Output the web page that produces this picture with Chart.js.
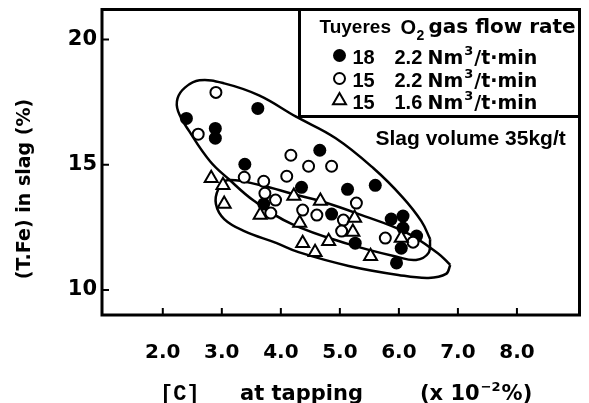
<!DOCTYPE html>
<html>
<head>
<meta charset="utf-8">
<script src="https://cdn.jsdelivr.net/npm/chart.js@4.4.1/dist/chart.umd.min.js"></script>
<style>
  body { margin: 0; background: #fff; }
  #wrap { width: 589px; height: 403px; }
</style>
</head>
<body>
<div id="wrap"><canvas id="tfeChart" width="589" height="403"></canvas></div>
<script>
// ejes
const xTicks = [2, 3, 4, 5, 6, 7, 8];
const yTicks = [10, 15, 20];

// 18 toberas, 2.2 Nm3/t.min
const filledX = [2.40, 2.89, 2.89, 3.61, 3.39, 3.71, 4.35, 4.66, 5.13, 5.60, 4.86, 5.87, 6.07, 6.07, 6.30, 5.26, 6.04, 5.96];
const filledY = [16.85, 16.45, 16.06, 17.25, 15.02, 13.43, 14.10, 15.58, 14.02, 14.18, 13.03, 12.83, 12.95, 12.47, 12.15, 11.87, 11.67, 11.08];

// 15 toberas, 2.2 Nm3/t.min
const openX = [2.90, 2.60, 4.17, 4.47, 4.86, 4.10, 3.38, 3.71, 3.73, 3.91, 3.83, 5.28, 4.37, 4.61, 5.06, 5.03, 5.77, 6.24];
const openY = [17.89, 16.22, 15.38, 14.94, 14.94, 14.54, 14.50, 14.34, 13.86, 13.59, 13.07, 13.47, 13.19, 12.99, 12.79, 12.35, 12.07, 11.91];

// 15 toberas, 1.6 Nm3/t.min
const triX = [2.82, 3.02, 3.04, 3.65, 4.22, 4.67, 4.32, 5.25, 5.22, 4.37, 4.58, 4.81, 5.52, 6.04];
const triY = [14.46, 14.18, 13.43, 12.99, 13.75, 13.55, 12.67, 12.87, 12.31, 11.87, 11.51, 11.95, 11.35, 12.07];

// contornos (zona 2.2 y zona 1.6)
const outerX = [6.53, 6.50, 6.29, 5.99, 5.15, 4.19, 3.55, 3.12, 2.80, 2.45, 2.26, 2.25, 2.38, 2.62, 3.04, 3.63, 4.25, 4.93, 5.57, 6.06, 6.38, 6.53];
const outerY = [12.03, 11.47, 11.20, 11.31, 11.83, 12.63, 13.55, 14.42, 15.14, 16.33, 17.13, 17.65, 18.09, 18.37, 18.25, 17.77, 16.93, 16.06, 14.86, 13.71, 12.75, 12.03];
const innerX = [6.87, 6.80, 6.50, 5.99, 5.15, 4.30, 3.93, 3.38, 3.04, 2.90, 2.94, 3.09, 3.66, 4.22, 4.67, 5.32, 6.11, 6.66, 6.87];
const innerY = [11.00, 10.64, 10.48, 10.60, 10.96, 11.51, 11.87, 12.35, 12.83, 13.43, 14.02, 14.38, 14.18, 13.82, 13.55, 13.03, 12.31, 11.47, 11.00];

const zip = (xs, ys) => xs.map((x, i) => ({ x: x, y: ys[i] }));

const BOLD = "'DejaVu Sans', sans-serif";
const ARIAL = "'Liberation Sans', Arial, sans-serif";

function marker(ctx, kind, x, y) {
  ctx.beginPath();
  if (kind === "tri") {
    const r = 7.5;
    ctx.moveTo(x, y - r);
    ctx.lineTo(x + r * 0.866, y + r * 0.5);
    ctx.lineTo(x - r * 0.866, y + r * 0.5);
    ctx.closePath();
    ctx.fillStyle = "#fff";
    ctx.fill();
    ctx.stroke();
  } else if (kind === "open") {
    ctx.arc(x, y, 5.5, 0, Math.PI * 2);
    ctx.fillStyle = "#fff";
    ctx.fill();
    ctx.stroke();
  } else {
    ctx.arc(x, y, 6.5, 0, Math.PI * 2);
    ctx.fillStyle = "#000";
    ctx.fill();
  }
}

// sin relleno extra de etiquetas en los bordes
function noPad(s) {
  s.paddingTop = 0;
  s.paddingBottom = 0;
  s.paddingLeft = 0;
  s.paddingRight = 0;
}

const decor = {
  id: "decor",
  afterDraw(chart) {
    const ctx = chart.ctx;
    const a = chart.chartArea;
    const xs = chart.scales.x, ys = chart.scales.y;
    ctx.save();
    ctx.strokeStyle = "#000";
    ctx.fillStyle = "#000";

    // marco
    ctx.lineWidth = 3;
    ctx.strokeRect(a.left, a.top, a.right - a.left, a.bottom - a.top);

    // marcas hacia dentro
    ctx.lineWidth = 2;
    ctx.beginPath();
    xTicks.forEach(v => {
      const px = xs.getPixelForValue(v);
      ctx.moveTo(px, a.bottom);
      ctx.lineTo(px, a.bottom - 7);
    });
    yTicks.forEach(v => {
      const py = ys.getPixelForValue(v);
      ctx.moveTo(a.left, py);
      ctx.lineTo(a.left + 7, py);
    });
    ctx.stroke();

    // caja de leyenda
    const bx = a.right - 280, by = a.top, bh = 107;
    ctx.fillStyle = "#fff";
    ctx.fillRect(bx, by, a.right - bx, bh);
    ctx.lineWidth = 3;
    ctx.strokeRect(bx, by, a.right - bx, bh);

    ctx.fillStyle = "#000";
    ctx.textBaseline = "alphabetic";
    ctx.textAlign = "left";
    ctx.font = "bold 19px " + ARIAL;
    ctx.fillText("Tuyeres", bx + 20, by + 23);
    ctx.font = "bold 20px " + ARIAL;
    ctx.fillText("O", bx + 101, by + 24);
    ctx.font = "bold 14px " + ARIAL;
    ctx.fillText("2", bx + 117, by + 30);
    ctx.font = "bold 20px " + BOLD;
    ctx.fillText("gas flow rate", bx + 129, by + 23);

    const rows = [
      { kind: "filled", n: "18", q: "2.2", y: by + 54 },
      { kind: "open", n: "15", q: "2.2", y: by + 77 },
      { kind: "tri", n: "15", q: "1.6", y: by + 99 }
    ];
    rows.forEach(r => {
      ctx.lineWidth = 2;
      marker(ctx, r.kind, bx + 40, r.y - 8);
      ctx.fillStyle = "#000";
      ctx.font = "bold 20px " + ARIAL;
      ctx.fillText(r.n, bx + 53, r.y);
      ctx.fillText(r.q, bx + 95, r.y);
      ctx.font = "bold 19px " + BOLD;
      ctx.fillText("Nm", bx + 128, r.y);
      let nx = bx + 128 + ctx.measureText("Nm").width + 1;
      ctx.font = "bold 13px " + BOLD;
      ctx.fillText("3", nx, r.y - 9);
      nx += ctx.measureText("3").width + 1;
      ctx.font = "bold 19px " + BOLD;
      ctx.fillText("/t\u00b7min", nx, r.y);
    });

    ctx.font = "bold 21px " + ARIAL;
    ctx.fillText("Slag volume 35kg/t", bx + 76, by + 135);

    // titulo eje y
    ctx.save();
    ctx.translate(25, 189);
    ctx.rotate(-Math.PI / 2);
    ctx.textAlign = "center";
    ctx.textBaseline = "middle";
    ctx.font = "bold 19px " + BOLD;
    ctx.fillText("(T.Fe) in slag (%)", 0, 0);
    ctx.restore();

    // titulo eje x
    const ty = 400;
    ctx.font = "bold 22px 'Liberation Mono', monospace";
    ctx.fillText("[C]", 160, ty);
    ctx.font = "bold 21px " + BOLD;
    ctx.fillText("at tapping", 240, ty);
    let tx = 420;
    ctx.fillText("(x 10", tx, ty);
    tx += ctx.measureText("(x 10").width + 1;
    ctx.font = "bold 13px " + BOLD;
    ctx.fillText("\u22122", tx, ty - 9);
    tx += ctx.measureText("\u22122").width + 1;
    ctx.font = "bold 21px " + BOLD;
    ctx.fillText("%)", tx, ty);

    ctx.restore();
  }
};

const ctx = document.getElementById("tfeChart").getContext("2d");
new Chart(ctx, {
  type: "scatter",
  data: {
    datasets: [
      {
        label: "18 / 2.2",
        data: zip(filledX, filledY),
        pointStyle: "circle",
        pointRadius: 6.5,
        pointBackgroundColor: "#000",
        pointBorderWidth: 0,
        order: 2
      },
      {
        label: "15 / 2.2",
        data: zip(openX, openY),
        pointStyle: "circle",
        pointRadius: 5.5,
        pointBackgroundColor: "#fff",
        pointBorderColor: "#000",
        pointBorderWidth: 2,
        order: 1
      },
      {
        label: "15 / 1.6",
        data: zip(triX, triY),
        pointStyle: "triangle",
        pointRadius: 7.5,
        pointBackgroundColor: "#fff",
        pointBorderColor: "#000",
        pointBorderWidth: 2,
        order: 0
      },
      {
        label: "outer",
        data: zip(outerX, outerY),
        showLine: true,
        pointRadius: 0,
        borderColor: "#000",
        borderWidth: 2.5,
        tension: 0.4,
        fill: false,
        order: 10
      },
      {
        label: "inner",
        data: zip(innerX, innerY),
        showLine: true,
        pointRadius: 0,
        borderColor: "#000",
        borderWidth: 2.5,
        tension: 0.4,
        fill: false,
        order: 11
      }
    ]
  },
  options: {
    responsive: false,
    animation: false,
    events: [],
    layout: { padding: { top: 8, right: 7, left: 0, bottom: 0 } },
    plugins: {
      legend: { display: false },
      tooltip: { enabled: false }
    },
    scales: {
      x: {
        type: "linear",
        min: 0.97,
        max: 9.06,
        afterBuildTicks: s => { s.ticks = xTicks.map(v => ({ value: v })); },
        afterFit: s => { s.height = 88; noPad(s); },
        grid: { display: false, drawTicks: false },
        border: { display: false },
        ticks: {
          padding: 26,
          color: "#000",
          autoSkip: false,
          maxRotation: 0,
          font: { family: BOLD, size: 20, weight: "bold" },
          callback: v => v.toFixed(1)
        }
      },
      y: {
        type: "linear",
        min: 9,
        max: 21.2,
        afterBuildTicks: s => { s.ticks = yTicks.map(v => ({ value: v })); },
        afterFit: s => { s.width = 102; noPad(s); },
        grid: { display: false, drawTicks: false },
        border: { display: false },
        ticks: {
          padding: 5,
          color: "#000",
          font: { family: BOLD, size: 21, weight: "bold" },
          callback: v => String(v)
        }
      }
    }
  },
  plugins: [decor]
});
</script>
</body>
</html>
